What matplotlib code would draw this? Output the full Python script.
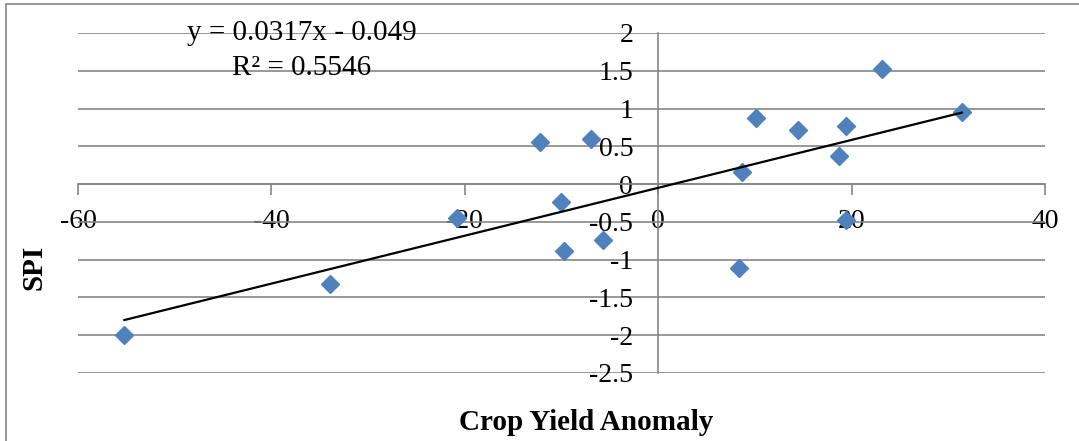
import numpy as np
import matplotlib
matplotlib.use("Agg")
import matplotlib.pyplot as plt
from matplotlib.patches import Rectangle

# Crop yield anomaly vs SPI
yield_anomaly = [-55.2, -33.9, -20.8, -12.2, -10.0, -9.7, -6.9, -5.7,
                 8.35, 8.7, 10.1, 14.5, 18.7, 19.4, 19.4, 23.1, 31.4]
spi = [-2.00, -1.32, -0.45, 0.56, -0.24, -0.89, 0.60, -0.74,
       -1.11, 0.16, 0.87, 0.72, 0.37, 0.77, -0.48, 1.52, 0.95]

# linear trendline as printed on the chart
slope = 0.0317
intercept = -0.049
r2 = 0.5546

x_ticks = [-60, -40, -20, 0, 20, 40]
y_ticks = [-2.5, -2, -1.5, -1, -0.5, 0, 0.5, 1, 1.5, 2]

plt.rcParams['font.family'] = ['Liberation Serif', 'DejaVu Serif']
plt.rcParams['axes.unicode_minus'] = False

W, H = 1079, 441
fig = plt.figure(figsize=(W / 100, H / 100), dpi=100)
ax = fig.add_axes([78 / W, 1 - 373 / H, (1045 - 78) / W, (373 - 33) / H])

grey = '#868686'
blue = '#4F81BD'

# chart area border (cut off at right/bottom like the original)
fig.patches.append(Rectangle((6 / W, -0.1), 1.2, 1 - 4 / H + 0.1,
                             transform=fig.transFigure, fill=False,
                             edgecolor=grey, linewidth=1.2))

ax.set_xlim(-60, 40)
ax.set_ylim(-2.5, 2)
ax.set_xticks(x_ticks)
ax.set_xticklabels([str(v) for v in x_ticks])
ax.set_yticks(y_ticks)
ax.set_yticklabels([f'{v:g}' for v in y_ticks])

ax.yaxis.grid(True, color=grey, linewidth=1.2)
ax.set_axisbelow(True)

for s in ['top', 'right']:
    ax.spines[s].set_visible(False)
ax.spines['bottom'].set_position(('data', 0))
ax.spines['left'].set_position(('data', 0))
ax.spines['bottom'].set_color(grey)
ax.spines['left'].set_color(grey)
ax.spines['bottom'].set_linewidth(1.2)
ax.spines['left'].set_linewidth(1.2)

ax.tick_params(axis='x', direction='out', length=8, width=1.2, color=grey,
               pad=10, labelsize=20)
ax.tick_params(axis='y', length=0, pad=18, labelsize=20)

ax.plot(yield_anomaly, spi, linestyle='none', marker='D', markersize=9.5,
        color=blue, zorder=3)

xs = np.array([min(yield_anomaly), max(yield_anomaly)])
ax.plot(xs, slope * xs + intercept, color='black', linewidth=1.6, zorder=4)

fig.text(302 / W, 1 - 33 / H, f'y = {slope}x - {abs(intercept)}', ha='center',
         va='center', fontsize=21)
fig.text(302 / W, 1 - 68 / H, f'R² = {r2}', ha='center', va='center',
         fontsize=21)

fig.text(34 / W, 1 - 267 / H, 'SPI', rotation=90, ha='center', va='center',
         fontsize=21, fontweight='bold')
fig.text(586 / W, 1 - 423 / H, 'Crop Yield Anomaly', ha='center', va='center',
         fontsize=21, fontweight='bold')

fig.savefig('out.png', dpi=100)
